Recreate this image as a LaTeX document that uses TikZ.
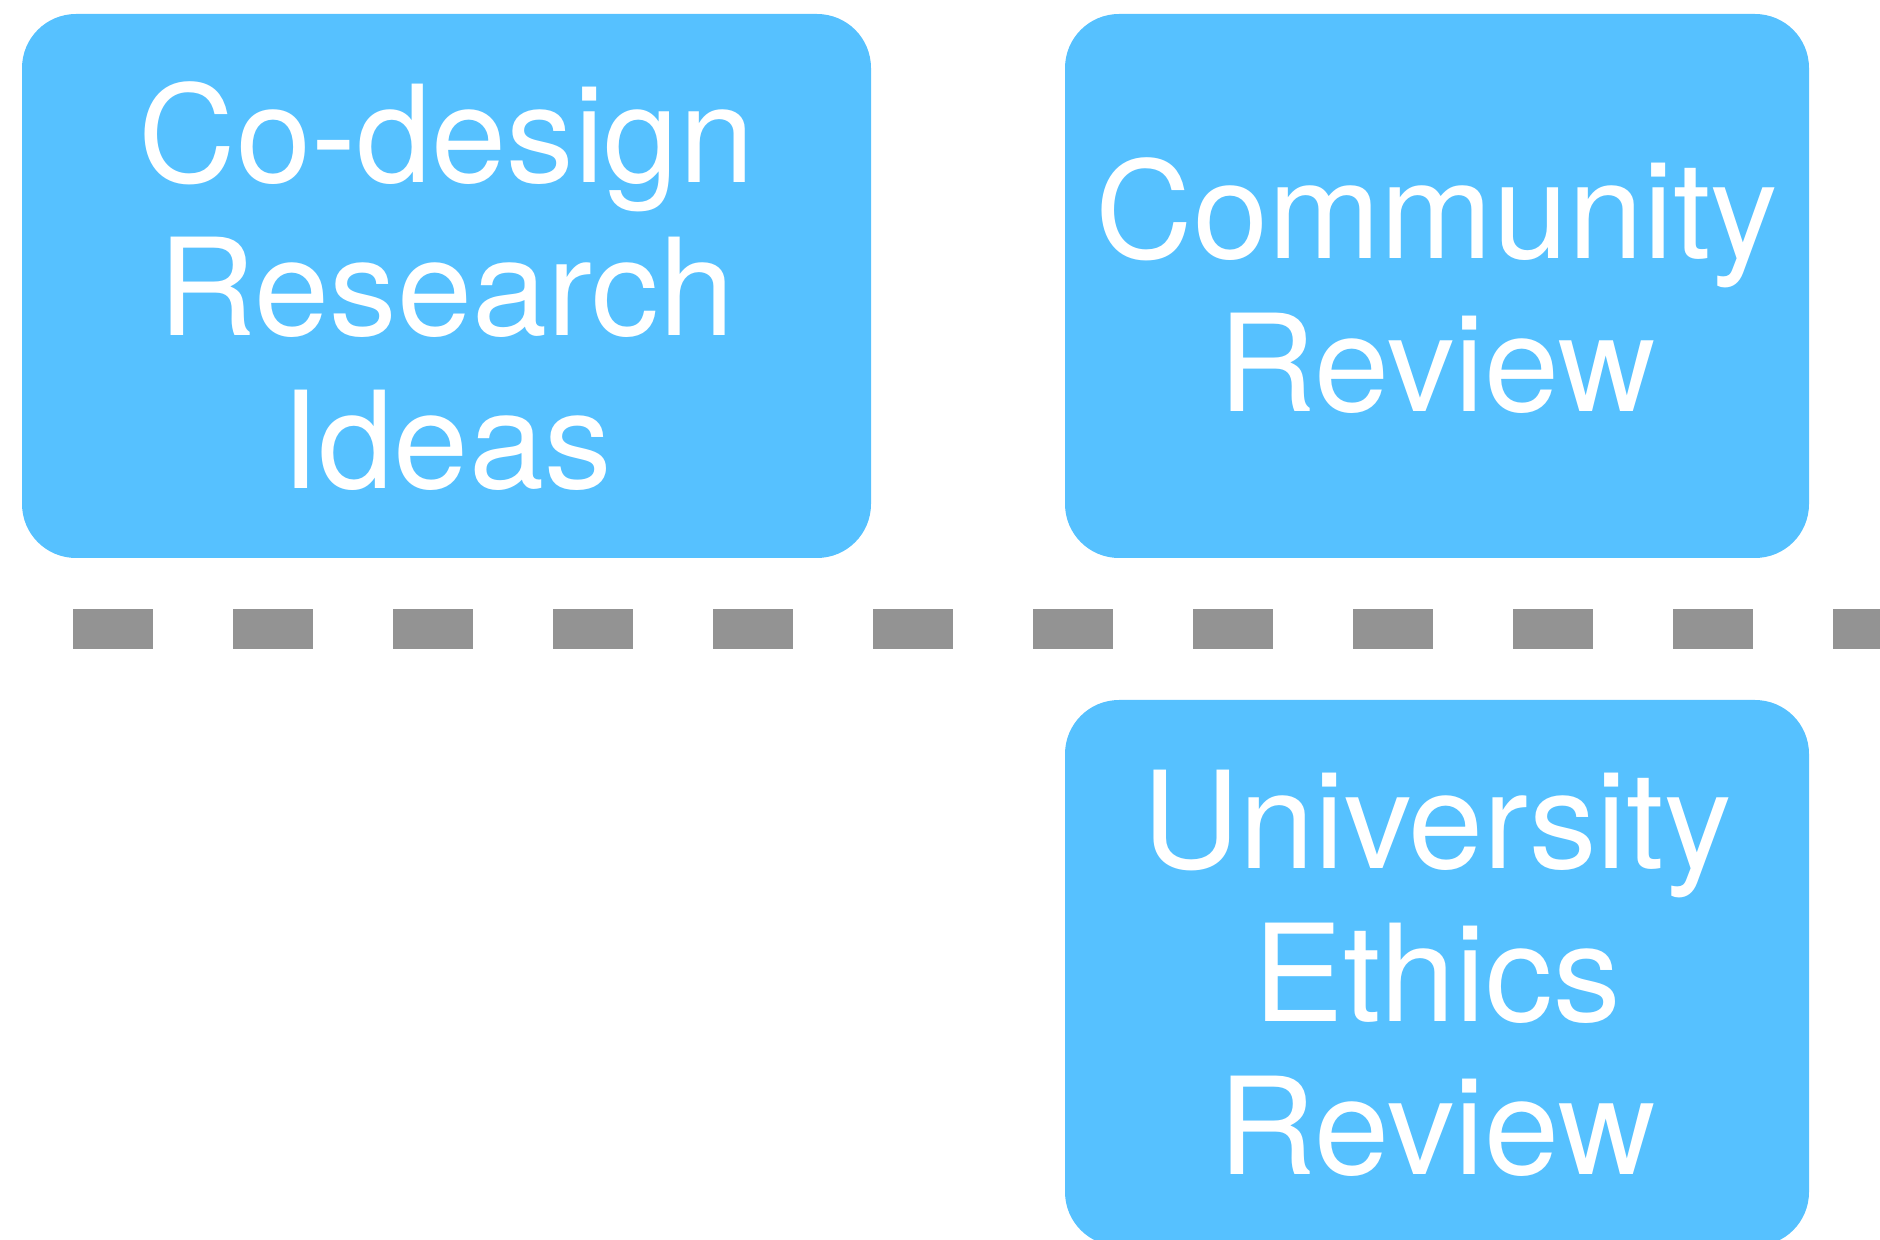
\documentclass[tikz,border=0pt]{standalone}
\usepackage{fontspec}
\setmainfont{TeX Gyre Heros}
\usetikzlibrary{positioning}
\definecolor{boxblue}{HTML}{56C1FF}
\definecolor{dashgray}{HTML}{939393}

\begin{document}
\begin{tikzpicture}[
		x=0.5pt, y=-0.5pt,
		line join=round,
		every node/.style={font=\fontsize{67.5}{76.5}\selectfont},
		stage/.style={fill=boxblue, text=white, rounded corners=27pt,
				align=center, inner sep=0pt, outer sep=0pt,
				minimum height=272pt}
	]
	% Canvas
	\useasboundingbox (0,0) rectangle (1880,1240);

	% Parameters
	\def\Wa{424.5pt}
	\def\Wb{372pt}

	% Stages
	\node[stage, anchor=north west, minimum width=\Wa] (codesign) at (22,14)
	{Co-design\\Research\\Ideas};
	\node[stage, right=97pt of codesign, minimum width=\Wb] (community)
	{Community\\Review};
	\node[stage, below=71pt of community, minimum width=\Wb, minimum height=273pt] (ethics)
	{University\\Ethics\\Review};

	% Separator
	\coordinate (sepL) at (73,629);
	\coordinate (sepR) at (1900,629);
	\draw[dashgray, line width=20pt, dash pattern=on 40pt off 40pt] (sepL) -- (sepR);
\end{tikzpicture}
\end{document}
